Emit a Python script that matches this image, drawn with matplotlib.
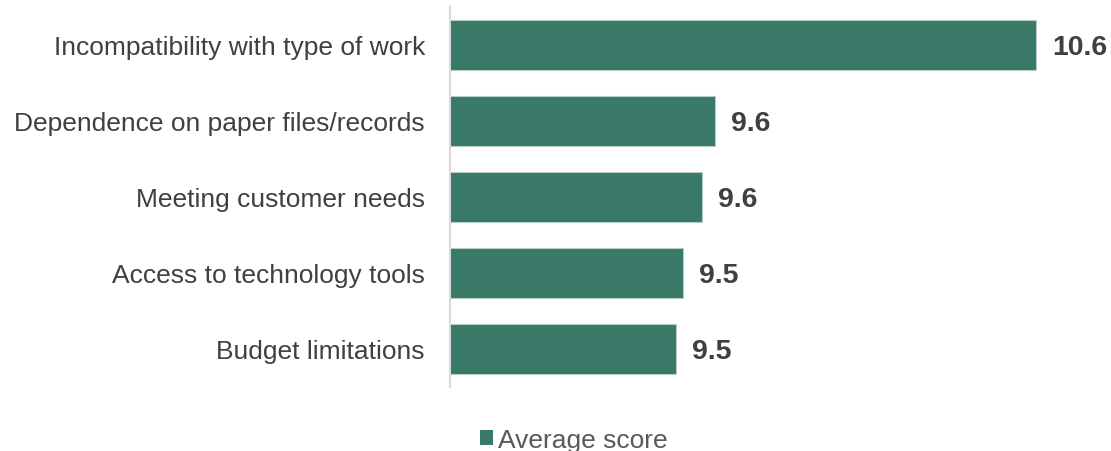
import matplotlib
matplotlib.use("Agg")
import matplotlib.pyplot as plt
from matplotlib.patches import Patch

categories = ["Incompatibility with type of work",
              "Dependence on paper files/records",
              "Meeting customer needs",
              "Access to technology tools",
              "Budget limitations"]
values = [10.59, 9.61, 9.57, 9.51, 9.49]
labels = ["10.6", "9.6", "9.6", "9.5", "9.5"]
series_name = "Average score"

plt.rcParams['font.family'] = ['Liberation Sans', 'DejaVu Sans']

W, H = 1111, 452
fig = plt.figure(figsize=(W / 100, H / 100), dpi=100)
ax = fig.add_axes([450 / W, (H - 388) / H, (W - 450) / W, 380 / H])

color = "#3A7868"
ypos = list(range(len(categories)))
ax.barh(ypos, values, left=0, height=0.665, color=color,
        edgecolor="#b5cdc5", linewidth=0.8, zorder=2)
xmin, xmax = 8.8, 10.818
ax.set_xlim(xmin, xmax)
ax.set_ylim(len(categories) - 0.5, -0.5)

for y, v, lab in zip(ypos, values, labels):
    ax.annotate(lab, (v, y), xytext=(16, -2), textcoords="offset pixels",
                ha="left", va="center", fontsize=20.5, fontweight="bold", color="#404040")

ax.set_yticks(ypos)
ax.set_yticklabels(categories, fontsize=19, color="#404040")
ax.tick_params(axis="y", length=0, pad=18)
ax.set_xticks([])
for s in ["top", "right", "bottom"]:
    ax.spines[s].set_visible(False)
ax.spines["left"].set_color("#d9d9d9")
ax.spines["left"].set_linewidth(1.5)

handle = Patch(facecolor=color, edgecolor="none")
fig.legend([handle], [series_name], loc="center",
           bbox_to_anchor=(574 / W, 1 - 441 / H), frameon=False,
           fontsize=19, handlelength=0.5, handleheight=0.5, handletextpad=0.2,
           labelcolor="#595959")

fig.savefig("out.png", dpi=100)
